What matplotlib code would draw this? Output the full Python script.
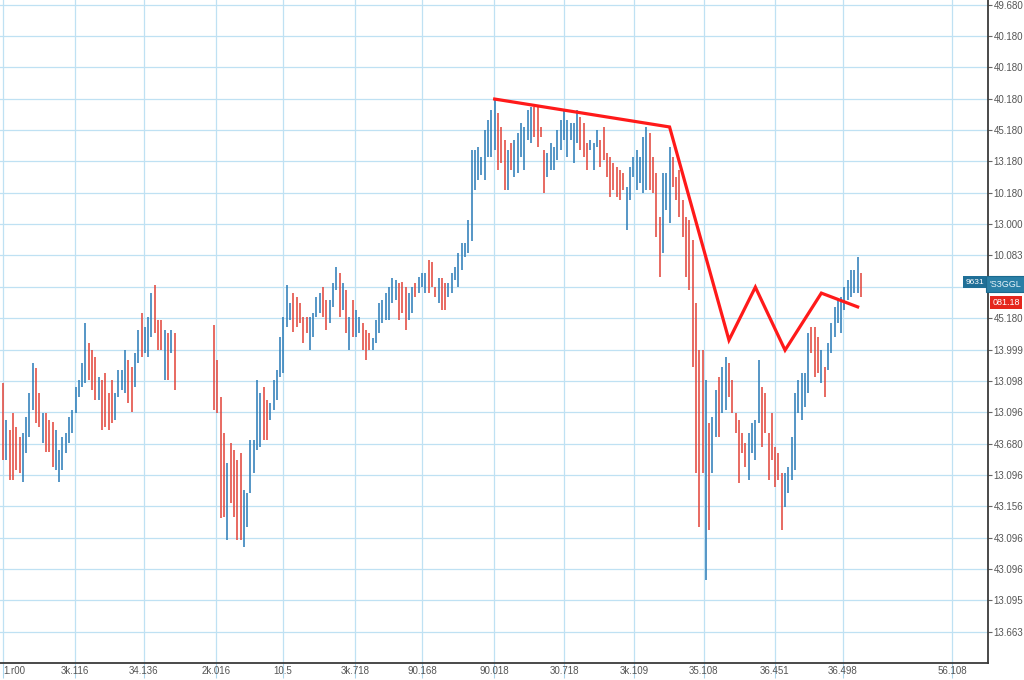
import numpy as np
import matplotlib.pyplot as plt
from matplotlib.transforms import blended_transform_factory

plt.rcParams['font.family'] = ['Liberation Sans', 'DejaVu Sans']

# first block of bars (before the gap)
high_a = [8.93, 7.75, 7.43, 7.97, 7.53, 7.21, 7.34, 7.85, 8.61, 9.57,
          9.41, 8.61, 7.97, 7.97, 7.75, 7.69, 7.43, 6.79, 7.21, 7.34,
          7.85, 8.07, 8.80, 9.03, 9.57, 10.85, 10.21, 9.98, 9.76, 9.12,
          9.03, 9.25, 8.61, 9.03, 8.61, 9.35, 9.35, 9.98, 9.67, 9.44,
          9.89, 10.62, 11.16, 10.72, 11.04, 11.80, 12.06, 10.94, 10.94, 10.62,
          10.53, 10.62, 10.53]
low_a = [6.48, 6.48, 5.84, 5.84, 6.16, 6.06, 5.77, 6.70, 7.21, 8.07,
         7.66, 7.53, 7.02, 6.73, 6.73, 6.25, 6.16, 5.77, 6.16, 6.70,
         7.02, 7.34, 7.97, 8.48, 8.80, 8.93, 9.03, 8.71, 8.39, 8.39,
         7.43, 7.53, 7.43, 7.66, 7.75, 8.48, 8.71, 8.61, 8.29, 8.00,
         8.80, 9.57, 9.76, 9.89, 9.76, 10.40, 10.53, 9.98, 9.98, 9.03,
         9.03, 9.89, 8.71]
dir_a = "dudddduuuu" "dduddduuuu" "uuuuuudddu" "dddduuuudd" "uuduuudddu" "dud"

# second block (after the gap): the sell-off low, the range, the peak, the crash
high_b = [10.78, 9.67, 8.48, 7.34, 6.38, 7.02, 6.79, 6.48, 6.70, 5.52,
          5.42, 7.11, 7.11, 9.03, 8.61, 8.80, 8.39, 8.29, 9.03, 9.35,
          10.40,
          11.04, 12.06, 11.48, 11.80, 11.67, 11.48, 11.04, 11.04, 11.04, 11.16,
          11.67, 11.80, 11.99, 11.58, 11.58, 12.12, 12.63, 12.44, 12.12, 11.90,
          11.04, 11.58, 11.26, 11.04, 10.85, 10.62, 10.53, 10.37, 10.94, 11.48,
          11.58, 11.80, 11.99, 12.28, 12.22, 12.12, 12.15, 11.99, 11.80, 11.99,
          12.12, 12.31, 12.44, 12.44, 12.85, 12.79, 11.99, 12.28, 12.28, 12.12,
          12.12, 12.44, 12.63, 13.08, 13.40, 13.40, 14.13,
          16.36, 16.36, 16.46, 16.14, 17.00, 17.32, 17.64, 17.96, 17.54, 17.10,
          16.68, 16.36, 16.59, 16.68, 16.91, 17.22, 17.10, 17.64, 17.74, 17.74,
          17.74, 17.10, 16.36, 16.27, 16.59, 16.46, 17.00, 17.32, 17.64, 17.32,
          17.22, 17.22, 17.64, 17.42, 17.22, 16.59, 16.68, 16.59, 17.00, 16.68,
          17.10, 16.27, 16.14, 15.95, 15.82, 15.72, 15.63, 15.18, 15.82, 16.14,
          16.36, 16.14, 16.78, 17.10, 16.91, 16.14, 15.63, 14.23, 15.63, 15.63,
          16.46, 16.14, 15.50, 15.72, 14.77, 14.23, 14.13,
          13.49, 11.48, 9.98, 9.98, 9.03, 7.66, 7.85, 8.71, 9.12,
          9.44, 9.76, 9.57, 9.03, 7.97, 7.75, 7.34, 7.02, 7.34, 7.66,
          7.75, 9.67, 8.80, 8.61, 7.34, 7.97, 6.89, 6.70, 6.06, 6.06,
          6.25, 7.21, 8.61, 9.03, 9.25, 9.25, 10.53, 10.72, 10.72,
          10.40, 9.98, 9.44, 10.21, 10.85, 11.36, 11.58, 11.67, 11.99, 12.22,
          12.54, 12.54, 12.95, 12.44]
low_b = [8.07, 7.97, 4.63, 4.66, 3.92, 5.10, 4.66, 3.92, 3.92, 3.70,
         4.34, 5.42, 6.06, 6.79, 6.89, 7.11, 7.11, 7.75, 8.07, 8.39,
         9.12,
         9.25, 10.72, 10.94, 10.56, 10.72, 10.85, 10.21, 10.53, 9.98, 10.40,
         11.04, 11.16, 11.04, 10.62, 10.85, 11.36, 11.90, 11.04, 11.26, 10.53,
         9.98, 10.40, 10.40, 10.53, 9.98, 9.67, 9.98, 9.98, 10.21, 10.53,
         10.85, 10.94, 10.94, 11.48, 11.58, 10.94, 11.16, 10.62, 10.94, 11.16,
         11.67, 11.80, 11.99, 11.80, 11.80, 11.99, 11.67, 11.48, 11.26, 11.26,
         11.67, 11.80, 12.22, 11.99, 12.54, 12.95, 13.08,
         13.46, 15.09, 15.41, 15.57, 15.41, 16.14, 16.14, 16.36, 15.72, 15.95,
         15.09, 15.09, 15.72, 15.50, 15.63, 16.14, 15.72, 16.68, 16.59, 16.78,
         16.46, 16.78, 14.99, 15.50, 15.72, 15.72, 16.04, 16.36, 16.68, 16.14,
         16.68, 15.95, 16.59, 16.36, 16.14, 15.72, 16.36, 15.72, 16.46, 15.82,
         16.04, 15.50, 14.86, 15.09, 14.86, 14.77, 15.09, 13.81, 14.77, 15.50,
         15.09, 15.31, 14.99, 15.09, 15.09, 14.99, 13.59, 12.31, 13.08, 14.45,
         14.04, 15.18, 14.77, 14.23, 13.59, 12.31, 11.90,
         9.44, 6.06, 4.34, 6.06, 2.65, 4.24, 6.06, 7.21, 7.21,
         7.97, 8.07, 8.48, 7.97, 7.34, 5.74, 6.70, 6.25, 5.84, 6.70,
         6.48, 7.66, 6.89, 7.34, 5.84, 6.48, 5.61, 5.84, 4.24, 4.98,
         5.42, 5.84, 6.16, 7.97, 7.75, 8.17, 8.61, 9.89, 9.12,
         9.25, 8.93, 8.48, 9.35, 9.89, 10.40, 10.85, 10.53, 11.26, 11.58,
         11.67, 11.80, 11.80, 11.67]
dir_b = ("ddddudddduuuuuudduuuu"
         "uuuddddduu" "uudduuudud" "uduuddduuu" "uuuuuddduu" "duuudddudd" "uuuuuuu"
         "uuuuuuuudd" "duduuuuuud" "ddduuuuuuu" "uuuddduuud" "ddddddduuu"
         "uuuudddduu" "udddddd"
         "dddduduud" "uudddddduu" "uudddddddu" "uuuuuuudd" "duduuuuuuu" "uuud")

# bar numbers: block a, a gap of missing sessions, then block b
bar_no = np.r_[0:len(high_a), 64:64 + len(high_b)]
highs = np.array(high_a + high_b)
lows = np.array(low_a + low_b)
dirs = dir_a + dir_b

# hand drawn trend line (bar number, price)
trend_bar = [149, 202, 220, 228, 237, 248, 259]
trend_px = [17.99, 17.10, 10.30, 11.99, 9.98, 11.80, 11.36]

ytick_vals = list(range(1, 22))
ytick_labels = ["13.663", "13.095", "43.096", "43.096", "43.156", "13.096", "43.680",
                "13.096", "13.098", "13.999", "45.180", "", "10.083", "13.000",
                "10.180", "13.180", "45.180", "40.180", "40.180", "40.180", "49.680"]
xtick_bars = [0, 21.8, 42.7, 64.5, 84.8, 106.7, 127.0, 148.8, 170.0, 191.2,
              212.4, 233.9, 254.5, 287.6]
xtick_labels = ["1.r00", "3k.116", "34.136", "2k.016", "10.5", "3k.718", "90.168",
                "90.018", "30.718", "3k.109", "35.108", "36.451", "36.498", "56.108"]

up_col = "#2f7fba"
down_col = "#e3493f"

fig = plt.figure(figsize=(10.24, 6.8), dpi=100)
ax = fig.add_axes([0, 17 / 680, 988 / 1024, 663 / 680])

cols = [up_col if d == "u" else down_col for d in dirs]
ax.vlines(bar_no, lows, highs, colors=cols, linewidth=1.15, zorder=3)

ax.plot(trend_bar, trend_px, color="#ff1a1a", linewidth=2.3, zorder=4,
        solid_joinstyle="miter")

ax.set_xlim(-0.91, 298.5)
ax.set_ylim(0, 21.15)

ax.yaxis.tick_right()
ax.set_yticks(ytick_vals)
ax.set_yticklabels(ytick_labels)
ax.set_xticks(xtick_bars)
ax.set_xticklabels(xtick_labels)
ax.get_xticklabels()[0].set_ha("left")

ax.grid(True, color="#bfe1f3", linewidth=0.9, zorder=0)
ax.set_axisbelow(True)

for side in ["top", "left"]:
    ax.spines[side].set_visible(False)
for side in ["right", "bottom"]:
    ax.spines[side].set_color("#3a3a3a")
    ax.spines[side].set_linewidth(1.3)

ax.tick_params(axis="y", length=3, width=0.8, color="#666666", pad=1,
               labelsize=7, labelcolor="#555555")
ax.tick_params(axis="x", length=11, width=0.8, color="#a9d6ee", pad=-9,
               labelsize=7, labelcolor="#555555")

# last price tags
tr = blended_transform_factory(ax.transAxes, ax.transData)
ax.text(0.9865, 12.15, "9631", transform=tr, ha="center", va="center",
        fontsize=6, color="white", zorder=5,
        bbox=dict(boxstyle="square,pad=0.3", fc="#1f6f97", ec="none"))
ax.text(1.0177, 12.09, "'S3GGL", transform=tr, ha="center", va="center",
        fontsize=6.5, color="#e8f4fa", zorder=5, clip_on=False,
        bbox=dict(boxstyle="square,pad=0.35", fc="#2a7fa6", ec="#1b6a8f", lw=0.8))
ax.text(1.0187, 11.50, "081.18", transform=tr, ha="center", va="center",
        fontsize=6.5, color="white", zorder=5, clip_on=False,
        bbox=dict(boxstyle="square,pad=0.25", fc="#e5261d", ec="none"))

fig.savefig("out.png", dpi=100)
